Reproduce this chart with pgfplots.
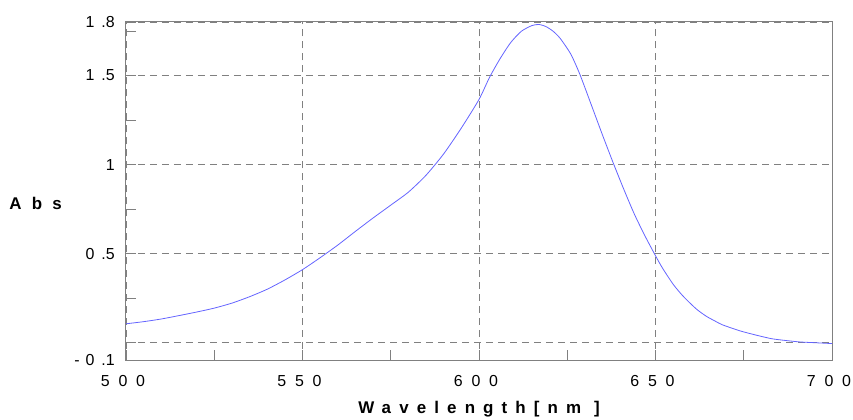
\documentclass[border=0pt]{standalone}
\usepackage{fontspec}
\setmainfont{Liberation Sans}
\newfontfamily\tickfont[LetterSpace=55]{Liberation Sans}
\newfontfamily\labfont[LetterSpace=48]{Liberation Sans}
\newfontfamily\ylabfont[LetterSpace=60]{Liberation Sans}
\usepackage{pgfplots}
\pgfplotsset{compat=1.18}
\definecolor{curveblue}{RGB}{100,100,255}
\definecolor{axgray}{RGB}{128,128,128}
\begin{document}
\begin{tikzpicture}
\useasboundingbox (-126bp,-59.5bp) rectangle (727bp,360.5bp);
\begin{axis}[
  scale only axis, width=706bp, height=338.5bp,
  xmin=500, xmax=700, ymin=-0.1, ymax=1.8,
  xtick={500,550,600,650,700}, xticklabels={500,550,600,650,700},
  minor xtick={525,575,625,675},
  ytick={-0.1,0,0.5,1,1.5,1.8},
  yticklabels={{-\hspace{6bp}0\hspace{7bp}.1},{},{0\hspace{7bp}.5},{1},{1\hspace{7bp}.5},{1\hspace{7bp}.8}},
  minor ytick={0.25,0.75,1.25,1.75},
  xtick pos=left, ytick pos=left,
  tick align=inside, major tick length=10bp, minor tick length=10bp,
  axis line style={axgray, line width=1bp},
  tick style={axgray, line width=0.8bp},
  grid=major,
  major grid style={axgray, line width=0.8bp, dash pattern=on 7bp off 5bp},
  xticklabel style={font=\tickfont\fontsize{16}{18}\selectfont, anchor=north, inner sep=0pt, yshift=-15bp, xshift=-3bp},
  yticklabel style={font=\fontsize{16}{18}\selectfont, anchor=east, inner sep=0pt, xshift=-11bp},
  every axis x label/.style={at={(axis description cs:0.5,-0.143)}, anchor=center, font=\labfont\bfseries\fontsize{17}{19}\selectfont},
  every axis y label/.style={at={(axis description cs:-0.170,0.465)}, anchor=west, font=\ylabfont\bfseries\fontsize{17}{19}\selectfont},
  xlabel={Wavelength[nm ]},
  ylabel={Abs},
]
\addplot[curveblue, line width=0.8bp, smooth, tension=0.4] table {
x y
500 0.106
505 0.118
510 0.133
515 0.152
520 0.172
525 0.194
530 0.222
535 0.258
540 0.300
545 0.352
550 0.410
555 0.477
560 0.548
565 0.625
570 0.700
575 0.772
580 0.845
585 0.940
590 1.060
595 1.205
600 1.365
603 1.490
606 1.595
609 1.685
612 1.748
615 1.780
617 1.786
619 1.774
621 1.748
623 1.708
626 1.620
628.6 1.505
632 1.325
635 1.165
638 1.010
641 0.862
644 0.722
647 0.600
650 0.488
652 0.418
655 0.328
657.5 0.268
660 0.218
662 0.182
664.5 0.147
667 0.120
669 0.100
674 0.066
679 0.040
683 0.022
687 0.012
691 0.004
695 0.000
700 -0.005
};
\end{axis}
\end{tikzpicture}
\end{document}
